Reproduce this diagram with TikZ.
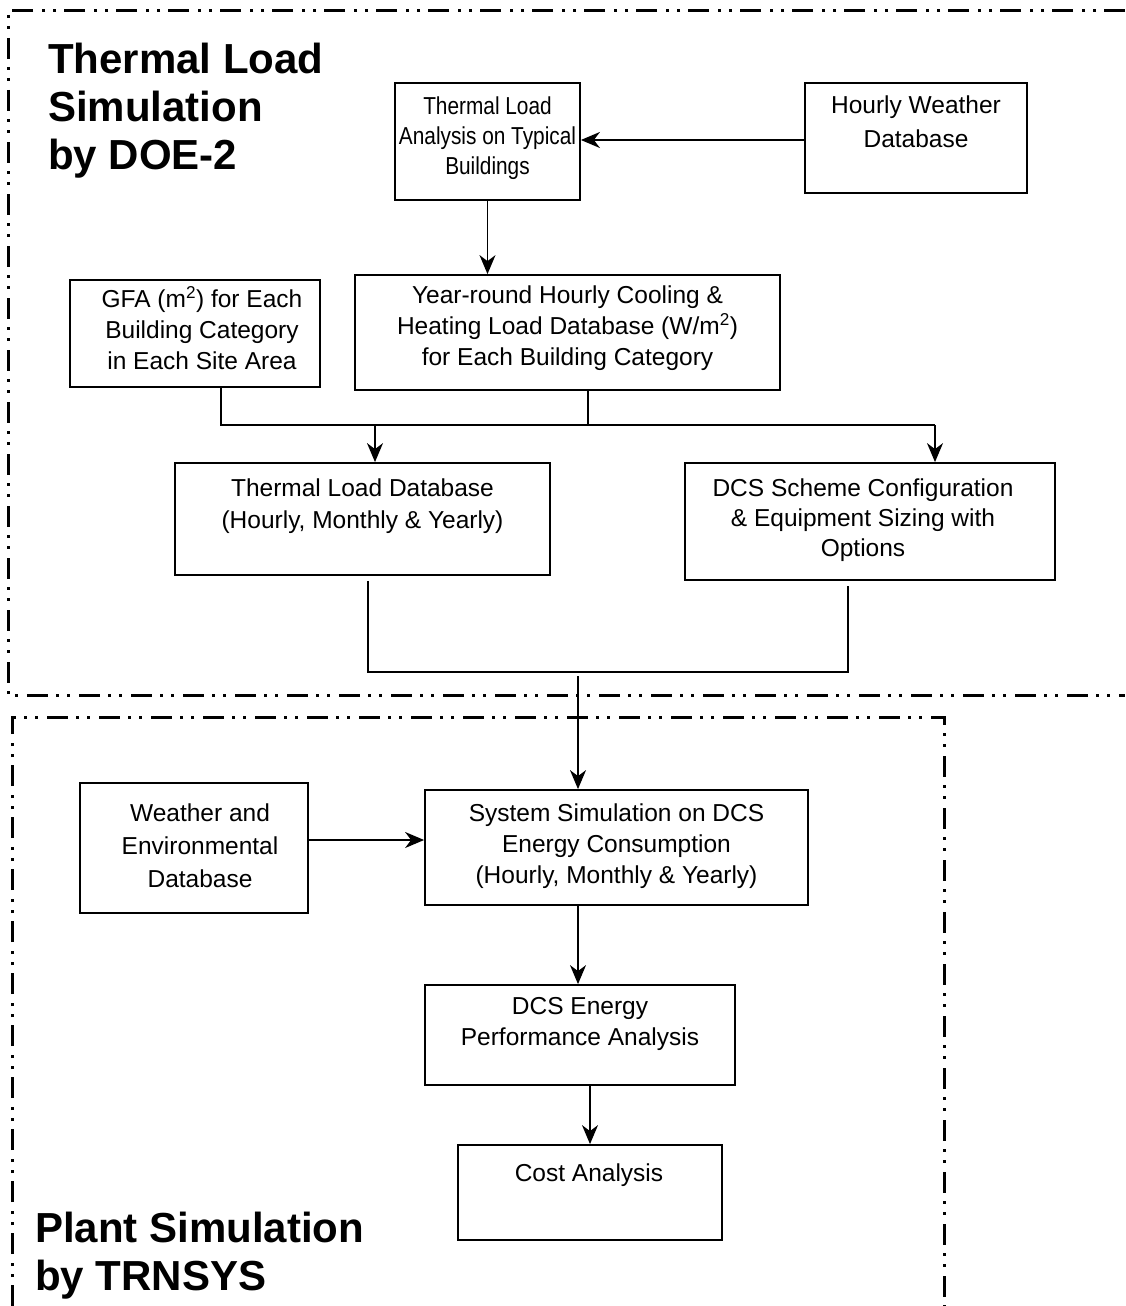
\documentclass[tikz,border=0pt]{standalone}
\usepackage{fontspec}
\setmainfont{Liberation Sans}
\newfontfamily\narrowfont{Liberation Sans}[FakeStretch=0.85]
\usetikzlibrary{arrows.meta,calc}
\begin{document}
\begin{tikzpicture}[x=1pt,y=-1pt,
  box/.style={draw=black,line width=1.8pt,inner sep=0pt},
  txt/.style={inner sep=0pt,align=center,font=\fontsize{24.5}{31}\selectfont},
  ttl/.style={inner sep=0pt,align=left,anchor=north west,font=\fontsize{42}{48}\selectfont\bfseries},
  conn/.style={line width=1.5pt},
  arr/.style={line width=1.5pt,-{Stealth[length=19pt,width=16pt,inset=6pt]}},
  border/.style={line width=3pt,dash pattern=on 21pt off 8pt on 3pt off 8pt on 3pt off 9pt}]
\useasboundingbox (0,0) rectangle (1125,1306);
% region borders
\draw[border] (1125,11) -- (8,11) -- (8,695) -- (1125,695);
\draw[border] (12,1306) -- (12,717) -- (944,717) -- (944,1306);
% titles
\node[ttl] (t1) at (48,43) {Thermal Load\\Simulation\\by DOE-2};
\node[ttl] (t2) at (35,1212) {Plant Simulation\\by TRNSYS};
% boxes
\node[box,minimum width=185pt,minimum height=117pt] (A) at (487.5,141.5) {};
\node[txt,font=\fontsize{24.5}{30}\narrowfont] (At) at (487.5,138) {Thermal Load\\Analysis on Typical\\Buildings};
\node[box,minimum width=222pt,minimum height=110pt] (B) at (916,138) {};
\node[txt,font=\fontsize{24.5}{34}\selectfont] (Bt) at (916,122) {Hourly Weather\\Database};
\node[box,minimum width=250pt,minimum height=107pt] (C) at (195,333.5) {};
\node[txt] (Ct) at (202,328) {GFA (m\textsuperscript{2}) for Each\\Building Category\\in Each Site Area};
\node[box,minimum width=425pt,minimum height=115pt] (D) at (567.5,332.5) {};
\node[txt] (Dt) at (567.5,328) {Year-round Hourly Cooling \&\\Heating Load Database (W/m\textsuperscript{2})\\for Each Building Category};
\node[box,minimum width=375pt,minimum height=112pt] (E) at (362.5,519) {};
\node[txt,font=\fontsize{24.5}{32}\selectfont] (Et) at (362.5,506) {Thermal Load Database\\(Hourly, Monthly \& Yearly)};
\node[box,minimum width=370pt,minimum height=117pt] (F) at (870,521.5) {};
\node[txt,font=\fontsize{24.5}{30}\selectfont] (Ft) at (863,520) {DCS Scheme Configuration\\\& Equipment Sizing with\\Options};
\node[box,minimum width=228pt,minimum height=130pt] (G) at (194,848) {};
\node[txt,font=\fontsize{24.5}{33}\selectfont] (Gt) at (200,846) {Weather and\\Environmental\\Database};
\node[box,minimum width=383pt,minimum height=115pt] (H) at (616.5,847.5) {};
\node[txt] (Ht) at (616.5,846) {System Simulation on DCS\\Energy Consumption\\(Hourly, Monthly \& Yearly)};
\node[box,minimum width=310pt,minimum height=100pt] (I) at (580,1035) {};
\node[txt] (It) at (580,1024) {DCS Energy\\Performance Analysis};
\node[box,minimum width=264pt,minimum height=95pt] (J) at (590,1192.5) {};
\node[txt] (Jt) at (589,1175) {Cost Analysis};
% junction coordinates
\coordinate (n1) at (0,140);
\coordinate (ja) at (221,425);
\coordinate (jd) at (588,425);
\coordinate (je) at (375,425);
\coordinate (jr) at (935,425);
\coordinate (k1) at (368,672);
\coordinate (k2) at (848,672);
\coordinate (k3) at (578,672);
\coordinate (m1) at (0,840);
% connectors
\draw[arr] (B.west |- n1) -- (A.east |- n1);
\draw[arr] (A.south) -- (A.south |- D.north);
\draw[conn] (C.south -| ja) -- (ja) -- (jr);
\draw[conn] (D.south -| jd) -- (jd);
\draw[arr] (je) -- (je |- E.north);
\draw[arr] (jr) -- (jr |- F.north);
\draw[conn] ([yshift=-5pt]E.south -| k1) -- (k1) -- (k2) -- ([yshift=-5pt]F.south -| k2);
\draw[arr] ([yshift=-4pt]k3) -- (k3 |- H.north);
\draw[arr] (G.east |- m1) -- (H.west |- m1);
\draw[arr] (H.south -| k3) -- (I.north -| k3);
\draw[arr] (I.south -| J.north) -- (J.north);
\end{tikzpicture}
\end{document}
